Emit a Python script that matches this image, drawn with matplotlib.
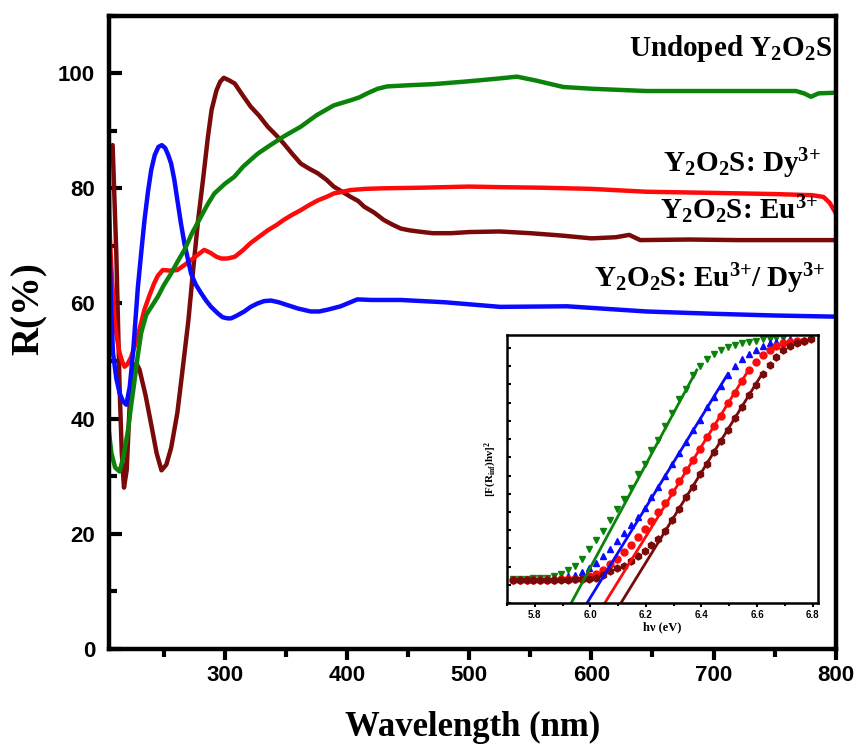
import matplotlib.pyplot as plt
from matplotlib.ticker import MultipleLocator

plt.rcParams['mathtext.fontset'] = 'custom'
plt.rcParams['mathtext.rm'] = 'Liberation Serif:bold'
plt.rcParams['mathtext.it'] = 'Liberation Serif:bold'
plt.rcParams['mathtext.bf'] = 'Liberation Serif:bold'

# diffuse reflectance spectra, R(%) vs wavelength (nm)
wl_undoped = [204.5, 207, 210, 213.7, 217, 220.6, 223, 226, 228.5, 231.4, 235.5, 240, 245.1,
              250, 255.9, 261, 266.8, 273, 280.4, 286, 291.3, 300, 307.6, 315, 326.7, 335,
              348, 362, 375, 389, 403, 410, 416.5, 425, 432.8, 450, 470.9, 500, 525.3, 539,
              555, 577, 600, 645, 700, 767.5, 774, 779.8, 786, 800]
r_undoped = [38.6, 34, 31.5, 30.8, 33.5, 38, 42, 46.7, 50.8, 54.9, 58, 59.5, 61.2,
             63.2, 65.2, 67.2, 69.3, 72.2, 75.1, 77.3, 79.1, 80.8, 82, 83.8, 86, 87.2,
             89, 90.7, 92.7, 94.4, 95.3, 95.8, 96.5, 97.3, 97.7, 97.9, 98.1, 98.6, 99.1, 99.4,
             98.7, 97.6, 97.3, 96.9, 96.9, 96.9, 96.5, 95.9, 96.5, 96.6]

wl_dy = [205, 208, 211, 213.7, 215.5, 217.3, 219.5, 222, 225, 227.5, 230, 235, 240, 244,
         248, 252, 256, 261, 265, 270, 274, 278, 282, 286, 289, 293, 296, 299, 303, 308,
         315, 321, 328, 335, 342, 348, 355, 362, 369, 376, 383, 389, 396, 403, 409, 414,
         422, 430, 437, 444, 451, 458, 470, 485, 500, 525, 550, 575, 600, 620, 631, 640,
         680, 720, 760, 800]
r_dy = [87, 87.5, 68.7, 45.5, 34, 28, 31, 42.7, 48.5, 49.6, 48.5, 44, 38.5, 34,
        31, 32, 35, 41, 48, 57, 66, 74.5, 81.5, 88.9, 93.6, 97, 98.5, 99.2, 98.8, 98.2,
        96, 94.2, 92.6, 90.7, 89.2, 87.8, 86, 84.3, 83.4, 82.6, 81.5, 80.3, 79.4, 78.5, 77.8, 76.8,
        75.8, 74.5, 73.7, 73, 72.7, 72.5, 72.2, 72.2, 72.4, 72.5, 72.2, 71.8, 71.3, 71.5, 71.9, 71.0,
        71.1, 71.0, 71.0, 71.0]

wl_eu = [205, 207, 209.6, 211.5, 213.7, 216, 217.8, 220, 223, 226, 230, 234, 238, 242,
         245, 249, 255, 261, 267, 272, 278, 283, 288, 293, 297, 302, 308, 315, 321, 328,
         335, 342, 348, 355, 362, 369, 376, 383, 389, 396, 403, 415, 430, 460, 500, 525,
         560, 600, 645, 700, 750, 781, 790, 795, 800]
r_eu = [75, 66, 57.1, 54, 51.4, 49.8, 49, 49.4, 50.6, 52.5, 55.5, 58.9, 61.3, 63.5,
        64.8, 65.8, 65.7, 65.8, 66.7, 67.5, 68.5, 69.3, 68.8, 68.1, 67.8, 67.8, 68.1, 69.3, 70.5, 71.6,
        72.7, 73.6, 74.5, 75.4, 76.2, 77.1, 77.9, 78.5, 79.1, 79.4, 79.7, 79.9, 80, 80.1, 80.3, 80.2,
        80.1, 79.9, 79.4, 79.2, 79.0, 78.8, 78.5, 77.5, 75.7]

wl_eudy = [204.5, 205.6, 207, 208.3, 211, 213.7, 216.5, 219.2, 222, 224.7, 228.7, 231.5, 234.1,
           237, 239.6, 242.5, 245.5, 248.3, 251, 253.5, 255.9, 258.5, 261.4, 264, 266.8, 272.2,
           276, 280.4, 284.5, 288.6, 294, 298, 302.2, 304.9, 309, 315.8, 321, 326.7, 332, 337.6,
           344, 351.2, 360, 370.2, 377, 383.8, 394.7, 408.3, 420, 443.7, 480, 525.3, 580, 645,
           700, 750, 800]
r_eudy = [90, 68.7, 58, 51.4, 47, 44.4, 43, 42.4, 45.5, 51.4, 62.9, 69, 74.5,
          79.5, 83.2, 85.8, 87.2, 87.5, 87.0, 85.8, 84.3, 81.5, 77.4, 73.8, 70.4, 65.2,
          63.3, 61.8, 60.5, 59.4, 58.3, 57.6, 57.4, 57.4, 57.8, 58.6, 59.4, 60, 60.4, 60.5,
          60.2, 59.7, 59.1, 58.6, 58.6, 58.9, 59.5, 60.7, 60.6, 60.6, 60.2, 59.4, 59.5, 58.6,
          58.2, 57.9, 57.7]

# Tauc plot, photon energy (eV) vs [F(R)hv]^2 (a.u.)
ev = [5.72, 5.745, 5.77, 5.795, 5.82, 5.845, 5.87, 5.895, 5.92, 5.945, 5.97, 5.995, 6.02, 6.045,
      6.07, 6.095, 6.12, 6.145, 6.17, 6.195, 6.22, 6.245, 6.27, 6.295, 6.32, 6.345, 6.37, 6.395,
      6.42, 6.445, 6.47, 6.495, 6.52, 6.545, 6.57, 6.595, 6.62, 6.645, 6.67, 6.695, 6.72, 6.745,
      6.77, 6.795]
f_undoped = [0.09, 0.09, 0.09, 0.092, 0.093, 0.095, 0.10, 0.11, 0.125, 0.14, 0.165, 0.20, 0.235, 0.27,
             0.31, 0.35, 0.39, 0.43, 0.48, 0.52, 0.57, 0.61, 0.66, 0.71, 0.76, 0.80, 0.85, 0.885,
             0.91, 0.93, 0.945, 0.955, 0.965, 0.97, 0.975, 0.98, 0.985, 0.985, 0.99, 0.99]
f_eudy = [0.088, 0.088, 0.088, 0.089, 0.09, 0.09, 0.092, 0.095, 0.10, 0.105, 0.115, 0.13, 0.15, 0.175,
          0.20, 0.23, 0.26, 0.29, 0.32, 0.355, 0.395, 0.435, 0.475, 0.52, 0.56, 0.60, 0.645, 0.685,
          0.73, 0.77, 0.81, 0.85, 0.885, 0.91, 0.93, 0.945, 0.96, 0.97, 0.975, 0.98, 0.985]
f_eu = [0.085, 0.085, 0.085, 0.086, 0.086, 0.087, 0.087, 0.088, 0.088, 0.089, 0.09, 0.10, 0.11, 0.125,
        0.145, 0.165, 0.19, 0.215, 0.245, 0.275, 0.305, 0.34, 0.375, 0.415, 0.455, 0.495, 0.535, 0.575,
        0.62, 0.66, 0.70, 0.745, 0.785, 0.83, 0.87, 0.90, 0.925, 0.945, 0.96, 0.97, 0.975, 0.98,
        0.98]
f_dy = [0.085, 0.085, 0.085, 0.085, 0.086, 0.086, 0.086, 0.087, 0.087, 0.088, 0.088, 0.09, 0.095, 0.105,
        0.12, 0.13, 0.14, 0.155, 0.175, 0.195, 0.215, 0.24, 0.27, 0.31, 0.35, 0.395, 0.435, 0.48,
        0.52, 0.565, 0.605, 0.645, 0.69, 0.73, 0.775, 0.815, 0.855, 0.89, 0.92, 0.945, 0.96, 0.97,
        0.98, 0.985]

# linear fits: (x at zero, x at end), (0, y at end)
fit_undoped = ([5.931, 6.383], [0.0, 0.87])
fit_eudy = ([5.988, 6.496], [0.0, 0.857])
fit_eu = ([6.052, 6.562], [0.0, 0.857])
fit_dy = ([6.110, 6.615], [0.0, 0.85])

GREEN = '#0b830b'
RED = '#ff0a0a'
BLUE = '#0a0aff'
BROWN = '#7a0a0a'

fig = plt.figure(figsize=(8.58, 7.44), dpi=100)
ax = fig.add_axes([0.127, 0.128, 0.847, 0.851])

ax.plot(wl_dy, r_dy, color=BROWN, lw=3.2)
ax.plot(wl_eu, r_eu, color=RED, lw=3.2)
ax.plot(wl_eudy, r_eudy, color=BLUE, lw=3.2)
ax.plot(wl_undoped, r_undoped, color=GREEN, lw=3.2)

ax.set_xlim(205, 800)
ax.set_ylim(0, 110)
ax.xaxis.set_major_locator(MultipleLocator(100))
ax.xaxis.set_minor_locator(MultipleLocator(50))
ax.yaxis.set_major_locator(MultipleLocator(20))
ax.yaxis.set_minor_locator(MultipleLocator(10))
ax.set_xticks([300, 400, 500, 600, 700, 800])
ax.tick_params(axis='x', which='major', direction='out', length=8, width=3, pad=4)
ax.tick_params(axis='x', which='minor', direction='out', length=6, width=3)
ax.tick_params(axis='y', which='major', direction='in', length=9, width=3, pad=10)
ax.tick_params(axis='y', which='minor', direction='in', length=6, width=3)
for lab in ax.get_xticklabels() + ax.get_yticklabels():
    lab.set_fontfamily('Liberation Sans')
    lab.set_fontweight('bold')
    lab.set_fontsize(16)
for sp in ax.spines.values():
    sp.set_linewidth(3.2)

ax.set_xlabel('Wavelength (nm)', fontfamily='Liberation Serif', fontweight='bold',
              fontsize=25, labelpad=18)
ax.set_ylabel('R(%)', fontfamily='Liberation Serif', fontweight='bold', fontsize=28)
ax.yaxis.set_label_coords(-0.084, 0.538)

label_kw = dict(fontfamily='Liberation Serif', fontweight='bold', fontsize=21,
                ha='right', va='baseline', transform=ax.transData)
ax.text(797, 102.9, r'Undoped Y$_2$O$_2$S', **label_kw)
ax.text(788, 82.8, r'Y$_2$O$_2$S: Dy$^{3{+}}$', **label_kw)
ax.text(785, 74.6, r'Y$_2$O$_2$S: Eu$^{3{+}}$', **label_kw)
ax.text(792, 62.8, r'Y$_2$O$_2$S: Eu$^{3{+}}$/ Dy$^{3{+}}$', **label_kw)

# inset: Tauc plot
ins = fig.add_axes([0.591, 0.1895, 0.3625, 0.36])
ms = 5
ins.plot(ev[:len(f_undoped)], f_undoped, 'v', color=GREEN, ms=ms, ls='none')
ins.plot(ev[:len(f_eudy)], f_eudy, '^', color=BLUE, ms=ms, ls='none')
ins.plot(ev[:len(f_eu)], f_eu, 'o', color=RED, ms=ms, ls='none')
ins.plot(ev[:len(f_dy)], f_dy, 'h', color=BROWN, ms=ms, ls='none')
for (fx, fy), c in zip([fit_undoped, fit_eudy, fit_eu, fit_dy], [GREEN, BLUE, RED, BROWN]):
    ins.plot(fx, fy, color=c, lw=2)

ins.set_xlim(5.7, 6.82)
ins.set_ylim(0, 1.0)
ins.xaxis.set_major_locator(MultipleLocator(0.2))
ins.xaxis.set_minor_locator(MultipleLocator(0.1))
ins.yaxis.set_major_locator(MultipleLocator(0.068))
ins.set_yticklabels([])
ins.tick_params(axis='x', which='major', direction='out', length=3, width=1.5, pad=2)
ins.tick_params(axis='x', which='minor', direction='out', length=2, width=1.5)
ins.tick_params(axis='y', which='major', direction='in', length=3, width=1.5)
for lab in ins.get_xticklabels():
    lab.set_fontfamily('Liberation Sans')
    lab.set_fontweight('bold')
    lab.set_fontsize(7)
for sp in ins.spines.values():
    sp.set_linewidth(1.8)
ins.set_xlabel('hν (eV)', fontfamily='Liberation Serif', fontweight='bold', fontsize=9,
               labelpad=1)
ins.set_ylabel(r'[F(R$_{\mathrm{inf}}$)hν]$^2$', fontfamily='Liberation Serif',
               fontweight='bold', fontsize=8, labelpad=2)

fig.savefig('out.png', dpi=100)
